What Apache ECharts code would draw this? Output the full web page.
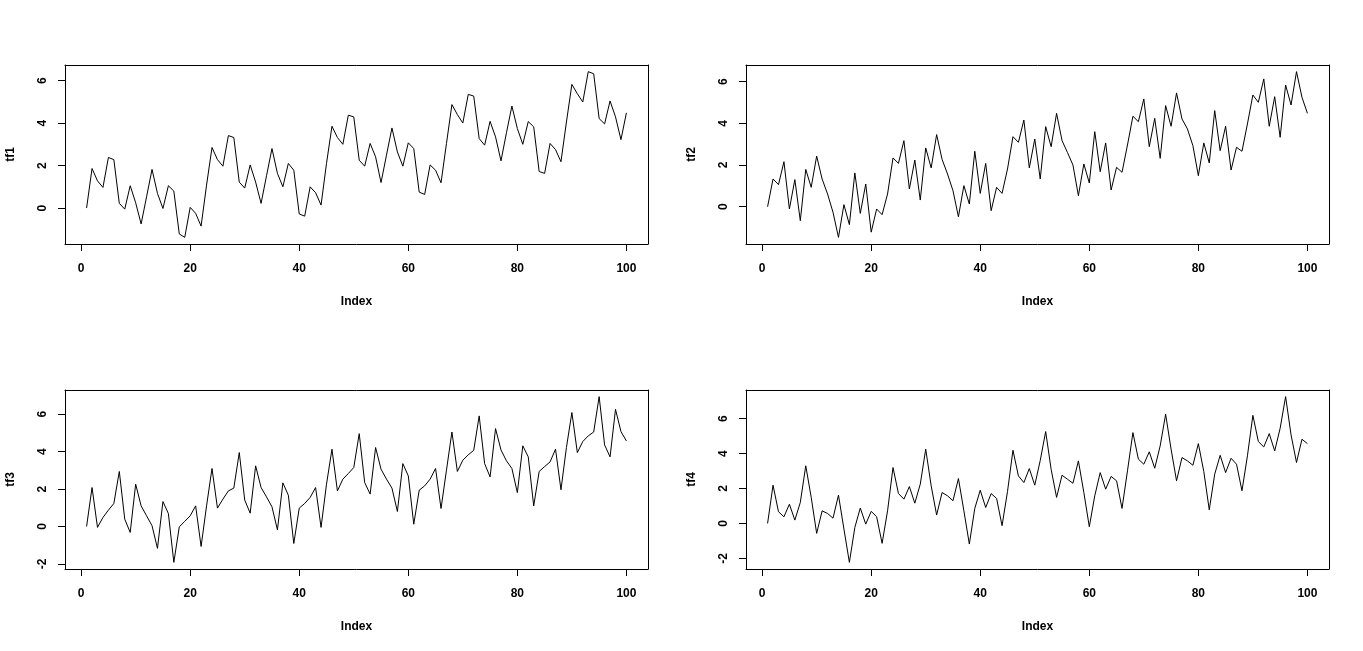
<!DOCTYPE html>
<html>
<head>
<meta charset="utf-8">
<script src="https://cdn.jsdelivr.net/npm/echarts@6/dist/echarts.min.js"></script>
<style>
html,body{margin:0;padding:0;background:#fff;}
#chart{width:1363px;height:651px;}
</style>
</head>
<body>
<div id="chart"></div>
<script>
// ---- data ----
const seriesNames = ['tf1', 'tf2', 'tf3', 'tf4'];
const xTickValues = [0, 20, 40, 60, 80, 100];
const yTicksTop = [0, 2, 4, 6];
const yTicksBottom = [-2, 0, 2, 4, 6];
const xAxisTitle = 'Index';

const tf1 = [0, 1.86, 1.28, 0.97, 2.38, 2.28, 0.22, -0.05, 1.05, 0.25,
  -0.75, 0.53, 1.82, 0.69, -0.02, 1.05, 0.8, -1.22, -1.38, 0.03,
  -0.25, -0.85, 1.08, 2.85, 2.28, 1.97, 3.41, 3.32, 1.22, 0.94,
  2.03, 1.22, 0.22, 1.52, 2.80, 1.63, 1.0, 2.1, 1.78, -0.28,
  -0.38, 1.0, 0.72, 0.14, 2.1, 3.85, 3.32, 3.0, 4.37, 4.29,
  2.25, 1.97, 3.04, 2.41, 1.2, 2.49, 3.77, 2.64, 1.97, 3.07,
  2.8, 0.75, 0.64, 2.03, 1.78, 1.19, 3.04, 4.87, 4.40, 4.0,
  5.35, 5.27, 3.27, 2.96, 4.08, 3.35, 2.22, 3.54, 4.8, 3.74,
  3.0, 4.07, 3.82, 1.72, 1.63, 3.04, 2.75, 2.18, 4.05, 5.82,
  5.38, 4.99, 6.42, 6.32, 4.21, 3.96, 5.04, 4.29, 3.22, 4.48];

const tf2 = [0, 1.33, 1.06, 2.16, -0.11, 1.3, -0.67, 1.79, 0.93, 2.43,
  1.33, 0.61, -0.27, -1.47, 0.1, -0.86, 1.62, -0.32, 1.09, -1.22,
  -0.11, -0.38, 0.61, 2.34, 2.08, 3.17, 0.85, 2.24, 0.32, 2.82,
  1.86, 3.46, 2.27, 1.57, 0.77, -0.48, 1.01, 0.13, 2.66, 0.64,
  2.08, -0.19, 0.93, 0.64, 1.81, 3.36, 3.09, 4.16, 1.86, 3.25,
  1.33, 3.84, 2.88, 4.48, 3.17, 2.6, 2.0, 0.53, 2.05, 1.14,
  3.6, 1.68, 3.06, 0.8, 1.89, 1.65, 2.96, 4.34, 4.08, 5.17,
  2.88, 4.24, 2.32, 4.85, 3.86, 5.46, 4.21, 3.73, 2.93, 1.49,
  3.06, 2.1, 4.61, 2.69, 3.86, 1.76, 2.85, 2.66, 3.97, 5.36,
  5.01, 6.13, 3.86, 5.28, 3.33, 5.84, 4.88, 6.48, 5.25, 4.48];

const tf3 = [0, 2.08, -0.05, 0.48, 0.87, 1.23, 2.94, 0.39, -0.32, 2.26,
  1.1, 0.57, 0.04, -1.17, 1.33, 0.69, -1.92, -0.02, 0.27, 0.57,
  1.1, -1.07, 1.1, 3.1, 0.98, 1.46, 1.9, 2.05, 3.95, 1.41,
  0.71, 3.24, 2.08, 1.58, 1.05, -0.18, 2.33, 1.67, -0.91, 0.98,
  1.23, 1.55, 2.08, -0.05, 2.26, 4.13, 1.9, 2.53, 2.83, 3.15,
  4.96, 2.35, 1.73, 4.22, 3.06, 2.53, 2.05, 0.8, 3.36, 2.7,
  0.12, 1.94, 2.17, 2.53, 3.1, 0.96, 3.01, 5.05, 2.94, 3.54,
  3.83, 4.07, 5.91, 3.36, 2.65, 5.23, 4.09, 3.51, 3.1, 1.81,
  4.31, 3.72, 1.1, 2.94, 3.2, 3.45, 4.13, 1.96, 4.22, 6.09,
  3.95, 4.54, 4.84, 5.05, 6.94, 4.36, 3.72, 6.26, 5.07, 4.57];

const tf4 = [0, 2.19, 0.67, 0.38, 1.1, 0.19, 1.2, 3.3, 1.49, -0.57,
  0.72, 0.57, 0.3, 1.62, -0.32, -2.23, -0.23, 0.88, -0.04, 0.69,
  0.38, -1.14, 0.72, 3.2, 1.71, 1.39, 2.11, 1.16, 2.25, 4.25,
  2.15, 0.48, 1.77, 1.58, 1.3, 2.57, 0.72, -1.18, 0.86, 1.9,
  0.91, 1.71, 1.43, -0.13, 1.83, 4.19, 2.72, 2.34, 3.14, 2.19,
  3.6, 5.26, 3.1, 1.49, 2.76, 2.53, 2.3, 3.58, 1.77, -0.19,
  1.58, 2.91, 1.96, 2.69, 2.44, 0.86, 3.01, 5.2, 3.68, 3.39,
  4.1, 3.16, 4.44, 6.25, 4.25, 2.44, 3.77, 3.58, 3.33, 4.57,
  2.97, 0.78, 2.82, 3.9, 2.91, 3.73, 3.39, 1.87, 3.87, 6.19,
  4.69, 4.38, 5.14, 4.15, 5.45, 7.26, 5.07, 3.49, 4.82, 4.57];

const allSeries = [tf1, tf2, tf3, tf4];
const yTickSets = [yTicksTop, yTicksTop, yTicksBottom, yTicksBottom];

// ---- layout ----
const panels = [
  {left: 65, top: 65},
  {left: 746, top: 65},
  {left: 65, top: 390},
  {left: 746, top: 390}
];
const PW = 583, PH = 179;
const FONT = '"Liberation Sans", Arial, sans-serif';
const LINE = {color: '#000', width: 1};
const TXT = {color: '#000', fontSize: 12, fontWeight: 'bold', fontFamily: FONT};

function rExtent(arr) {
  const mn = Math.min.apply(null, arr), mx = Math.max.apply(null, arr);
  const r = mx - mn;
  return [mn - 0.04 * r, mx + 0.04 * r];
}

const grids = [], xAxes = [], yAxes = [], series = [];
allSeries.forEach(function (vals, k) {
  const idx = vals.map(function (_, i) { return i + 1; });
  const xe = rExtent(idx);
  const ye = rExtent(vals);
  grids.push({
    left: panels[k].left, top: panels[k].top, width: PW, height: PH, show: false
  });
  // bottom axis (with ticks and labels)
  xAxes.push({
    gridIndex: k, type: 'value', min: xe[0], max: xe[1], position: 'bottom',
    axisLine: {show: true, onZero: false, lineStyle: LINE},
    splitLine: {show: false},
    axisTick: {show: true, inside: false, customValues: xTickValues, length: 7, lineStyle: LINE},
    axisLabel: Object.assign({customValues: xTickValues, margin: 19}, TXT),
    name: xAxisTitle, nameLocation: 'middle', nameGap: 52,
    nameTextStyle: TXT
  });
  // top edge of the box
  xAxes.push({
    gridIndex: k, type: 'value', min: xe[0], max: xe[1], position: 'top',
    axisLine: {show: true, onZero: false, lineStyle: LINE},
    splitLine: {show: false}, axisTick: {show: false}, axisLabel: {show: false}
  });
  // left axis (with ticks and labels)
  yAxes.push({
    gridIndex: k, type: 'value', min: ye[0], max: ye[1], position: 'left',
    axisLine: {show: true, onZero: false, lineStyle: LINE},
    splitLine: {show: false},
    axisTick: {show: true, inside: false, customValues: yTickSets[k], length: 7, lineStyle: LINE},
    axisLabel: Object.assign({customValues: yTickSets[k], rotate: 90, margin: 16}, TXT),
    name: seriesNames[k], nameLocation: 'middle', nameGap: 48, nameRotate: 90,
    nameTextStyle: TXT
  });
  // right edge of the box
  yAxes.push({
    gridIndex: k, type: 'value', min: ye[0], max: ye[1], position: 'right',
    axisLine: {show: true, onZero: false, lineStyle: LINE},
    splitLine: {show: false}, axisTick: {show: false}, axisLabel: {show: false}
  });
  series.push({
    type: 'line', xAxisIndex: 2 * k, yAxisIndex: 2 * k,
    data: vals.map(function (v, i) { return [idx[i], v]; }),
    showSymbol: false, symbol: 'none',
    lineStyle: LINE,
    itemStyle: {color: '#000'},
    silent: true
  });
});

const chart = echarts.init(document.getElementById('chart'), null, {renderer: 'canvas'});
chart.setOption({
  backgroundColor: '#fff',
  animation: false,
  grid: grids,
  xAxis: xAxes,
  yAxis: yAxes,
  series: series
});
</script>
</body>
</html>
